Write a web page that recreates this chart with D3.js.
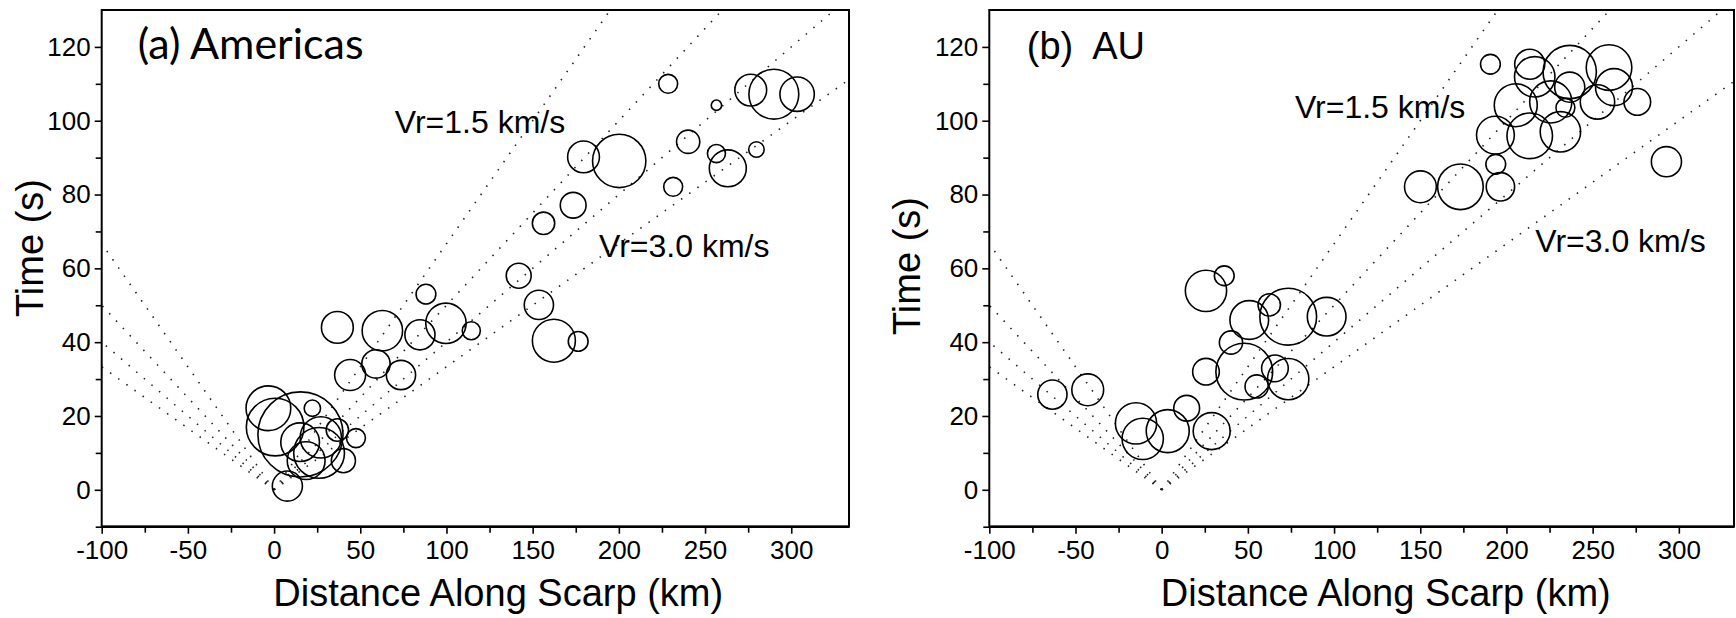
<!doctype html>
<html>
<head>
<meta charset="utf-8">
<script src="https://cdnjs.cloudflare.com/ajax/libs/d3/7.8.5/d3.min.js"></script>
<style>
body { margin: 0; background: #fff; }
svg { display: block; font-family: "Liberation Sans", Arial, sans-serif; }
</style>
</head>
<body>
<svg id="chart" width="1736" height="618"></svg>
<script>
// rupture velocities for the dotted reference lines (km/s)
var velocities = [1.5, 2.0, 2.5, 3.0];

// x ticks (km) and y ticks (s)
var xMajor = [-100, -50, 0, 50, 100, 150, 200, 250, 300];
var xMinor = [-75, -25, 25, 75, 125, 175, 225, 275];
var yMajor = [0, 20, 40, 60, 80, 100, 120];
var yMinor = [-10, 10, 30, 50, 70, 90, 110];

// (a) Americas: distance (km), time (s), relative amplitude
var amerDist = [88.1, 36.7, 62.8, 84.6, 99.7, 114.4, 59.1, 44.1, 73.6, -3.3,
  0.6, 15.3, 22.2, 15.1, 27.1, 36.7, 26.1, 18.6, 40.2, 47.5,
  7.7, 228.6, 256.6, 276.5, 289.9, 303.4, 179.5, 200.2, 240.2, 256.6,
  263.2, 279.8, 231.5, 173.5, 156.3, 141.9, 153.6, 162.3, 176.4];
var amerTime = [53.0, 44.0, 43.1, 42.0, 45.1, 43.1, 34.1, 31.1, 31.1, 22.1,
  17.0, 15.0, 22.1, 12.9, 14.2, 16.2, 10.0, 7.9, 7.9, 14.0,
  1.0, 110.0, 104.2, 108.3, 107.2, 107.2, 90.2, 89.1, 94.3, 91.1,
  87.1, 92.2, 82.1, 77.1, 72.2, 58.0, 50.1, 40.4, 40.2];
var amerAmp = [0.23, 0.37, 0.47, 0.35, 0.47, 0.21, 0.33, 0.36, 0.34, 0.52,
  0.67, 0.99, 0.19, 0.45, 0.48, 0.26, 0.59, 0.44, 0.28, 0.22,
  0.35, 0.22, 0.12, 0.37, 0.58, 0.40, 0.37, 0.62, 0.27, 0.21,
  0.43, 0.18, 0.22, 0.30, 0.26, 0.29, 0.34, 0.50, 0.23];

// (b) AU
var auDist = [-63.4, -42.9, -14.9, -11.0, 3.5, 14.5, 29.0, 25.7, 36.3, 50.8,
  62.4, 73.4, 95.7, 40.2, 25.7, 47.9, 65.7, 55.1, 73.4, 190.7,
  213.5, 216.4, 236.7, 259.5, 236.7, 262.4, 275.9, 252.8, 225.7, 205.4,
  234.2, 231.3, 213.5, 193.6, 193.8, 196.5, 173.3, 150.1, 292.8];
var auTime = [25.8, 27.1, 18.0, 13.8, 15.9, 22.1, 15.9, 53.9, 58.0, 46.0,
  50.1, 46.9, 46.9, 39.9, 32.0, 32.0, 32.9, 28.0, 30.0, 115.3,
  115.3, 111.9, 113.2, 114.4, 109.1, 109.1, 105.1, 105.1, 105.1, 104.2,
  103.5, 97.0, 95.9, 96.1, 88.2, 82.1, 82.1, 82.1, 88.9];
var auAmp = [0.34, 0.37, 0.48, 0.48, 0.50, 0.30, 0.43, 0.48, 0.23, 0.45,
  0.26, 0.66, 0.45, 0.27, 0.31, 0.66, 0.31, 0.27, 0.48, 0.23,
  0.35, 0.47, 0.62, 0.53, 0.35, 0.43, 0.31, 0.40, 0.49, 0.50,
  0.22, 0.47, 0.53, 0.44, 0.23, 0.33, 0.53, 0.37, 0.35];

var svg = d3.select("#chart");
var plotTop = 10, plotBottom = 526.7;
var rScale = d3.scaleLinear().domain([0, 1]).range([0, 43]);
var fmt = d => String(d);   // plain hyphen for negatives, as in the figure

function panel(opt) {
  var x = d3.scaleLinear().domain(opt.xDomain).range([opt.left, opt.right]);
  var y = d3.scaleLinear().domain([-10, 130]).range([plotBottom, plotTop]);
  var g = svg.append("g");

  g.append("clipPath").attr("id", opt.id + "clip")
    .append("rect")
    .attr("x", opt.left).attr("y", plotTop)
    .attr("width", opt.right - opt.left).attr("height", plotBottom - plotTop);

  // dotted velocity lines, both directions from the origin
  var lines = [];
  velocities.forEach(function(v) {
    lines.push({v: v, x1: -100});
    lines.push({v: v, x1: opt.xDomain[1]});
  });
  g.append("g").attr("clip-path", "url(#" + opt.id + "clip)")
    .selectAll("line").data(lines).enter().append("line")
    .attr("x1", x(0)).attr("y1", y(0))
    .attr("x2", d => x(d.x1))
    .attr("y2", d => y(Math.abs(d.x1) / d.v))
    .attr("stroke", "#222")
    .attr("stroke-width", 1.6)
    .attr("stroke-dasharray", "1.5 8.5");

  // event circles
  var pts = opt.dist.map((d, i) => ({x: d, t: opt.time[i], a: opt.amp[i]}));
  g.selectAll("circle").data(pts).enter().append("circle")
    .attr("cx", d => x(d.x))
    .attr("cy", d => y(d.t))
    .attr("r", d => rScale(d.a))
    .attr("fill", "none")
    .attr("stroke", "#000")
    .attr("stroke-width", 1.6);

  // frame
  g.append("rect")
    .attr("x", opt.left).attr("y", plotTop)
    .attr("width", opt.right - opt.left).attr("height", plotBottom - plotTop)
    .attr("fill", "none").attr("stroke", "#000").attr("stroke-width", 2);
  g.append("line")
    .attr("x1", opt.left).attr("x2", opt.right)
    .attr("y1", plotBottom).attr("y2", plotBottom)
    .attr("stroke", "#000").attr("stroke-width", 2.6);

  // axes
  var xAxis = g.append("g").attr("transform", "translate(0," + plotBottom + ")")
    .call(d3.axisBottom(x).tickValues(xMajor).tickSize(7).tickPadding(7).tickFormat(fmt));
  var xAxisMinor = g.append("g").attr("transform", "translate(0," + plotBottom + ")")
    .call(d3.axisBottom(x).tickValues(xMinor).tickSize(6).tickFormat(""));
  var yAxis = g.append("g").attr("transform", "translate(" + opt.left + ",0)")
    .call(d3.axisLeft(y).tickValues(yMajor).tickSize(7).tickPadding(4).tickFormat(fmt));
  var yAxisMinor = g.append("g").attr("transform", "translate(" + opt.left + ",0)")
    .call(d3.axisLeft(y).tickValues(yMinor).tickSize(6).tickFormat(""));
  [xAxis, xAxisMinor, yAxis, yAxisMinor].forEach(function(a) {
    a.select(".domain").remove();
    a.selectAll("line").attr("stroke", "#000").attr("stroke-width", 1.6);
    a.selectAll("text").attr("font-family", "Liberation Sans, Arial, sans-serif")
      .attr("font-size", 26).attr("fill", "#000");
  });

  // axis titles
  g.append("text")
    .attr("x", x(130)).attr("y", 606)
    .attr("text-anchor", "middle")
    .attr("font-size", 38)
    .text("Distance Along Scarp (km)");
  g.append("text")
    .attr("transform", "translate(" + opt.yTitleX + "," + opt.yTitleY + ") rotate(-90)")
    .attr("text-anchor", "middle")
    .attr("font-size", 38)
    .text("Time (s)");

  // panel title
  g.append("text")
    .attr("x", opt.left + opt.titleDx).attr("y", 59)
    .attr("font-family", opt.titleFont)
    .attr("font-size", opt.titleSize)
    .style("white-space", "pre")
    .text(opt.title);

  // velocity labels
  g.append("text")
    .attr("x", x(opt.slowAt[0])).attr("y", y(opt.slowAt[1]))
    .attr("font-size", 32)
    .text("Vr=1.5 km/s");
  g.append("text")
    .attr("x", x(opt.fastAt[0])).attr("y", y(opt.fastAt[1]))
    .attr("font-size", 32)
    .text("Vr=3.0 km/s");
}

panel({
  id: "a", left: 101.7, right: 849, xDomain: [-100, 333.5],
  dist: amerDist, time: amerTime, amp: amerAmp,
  title: "(a) Americas", titleFont: "Lato, 'Open Sans', sans-serif", titleSize: 43, titleDx: 36,
  yTitleX: 43, yTitleY: 248,
  slowAt: [70, 96.7], fastAt: [188.5, 63.2]
});

panel({
  id: "b", left: 989.3, right: 1734, xDomain: [-100, 332],
  dist: auDist, time: auTime, amp: auAmp,
  title: "(b)  AU", titleFont: "Liberation Sans, Arial, sans-serif", titleSize: 38, titleDx: 37.5,
  yTitleX: 920, yTitleY: 266,
  slowAt: [77.3, 100.8], fastAt: [216.7, 64.5]
});
</script>
</body>
</html>
